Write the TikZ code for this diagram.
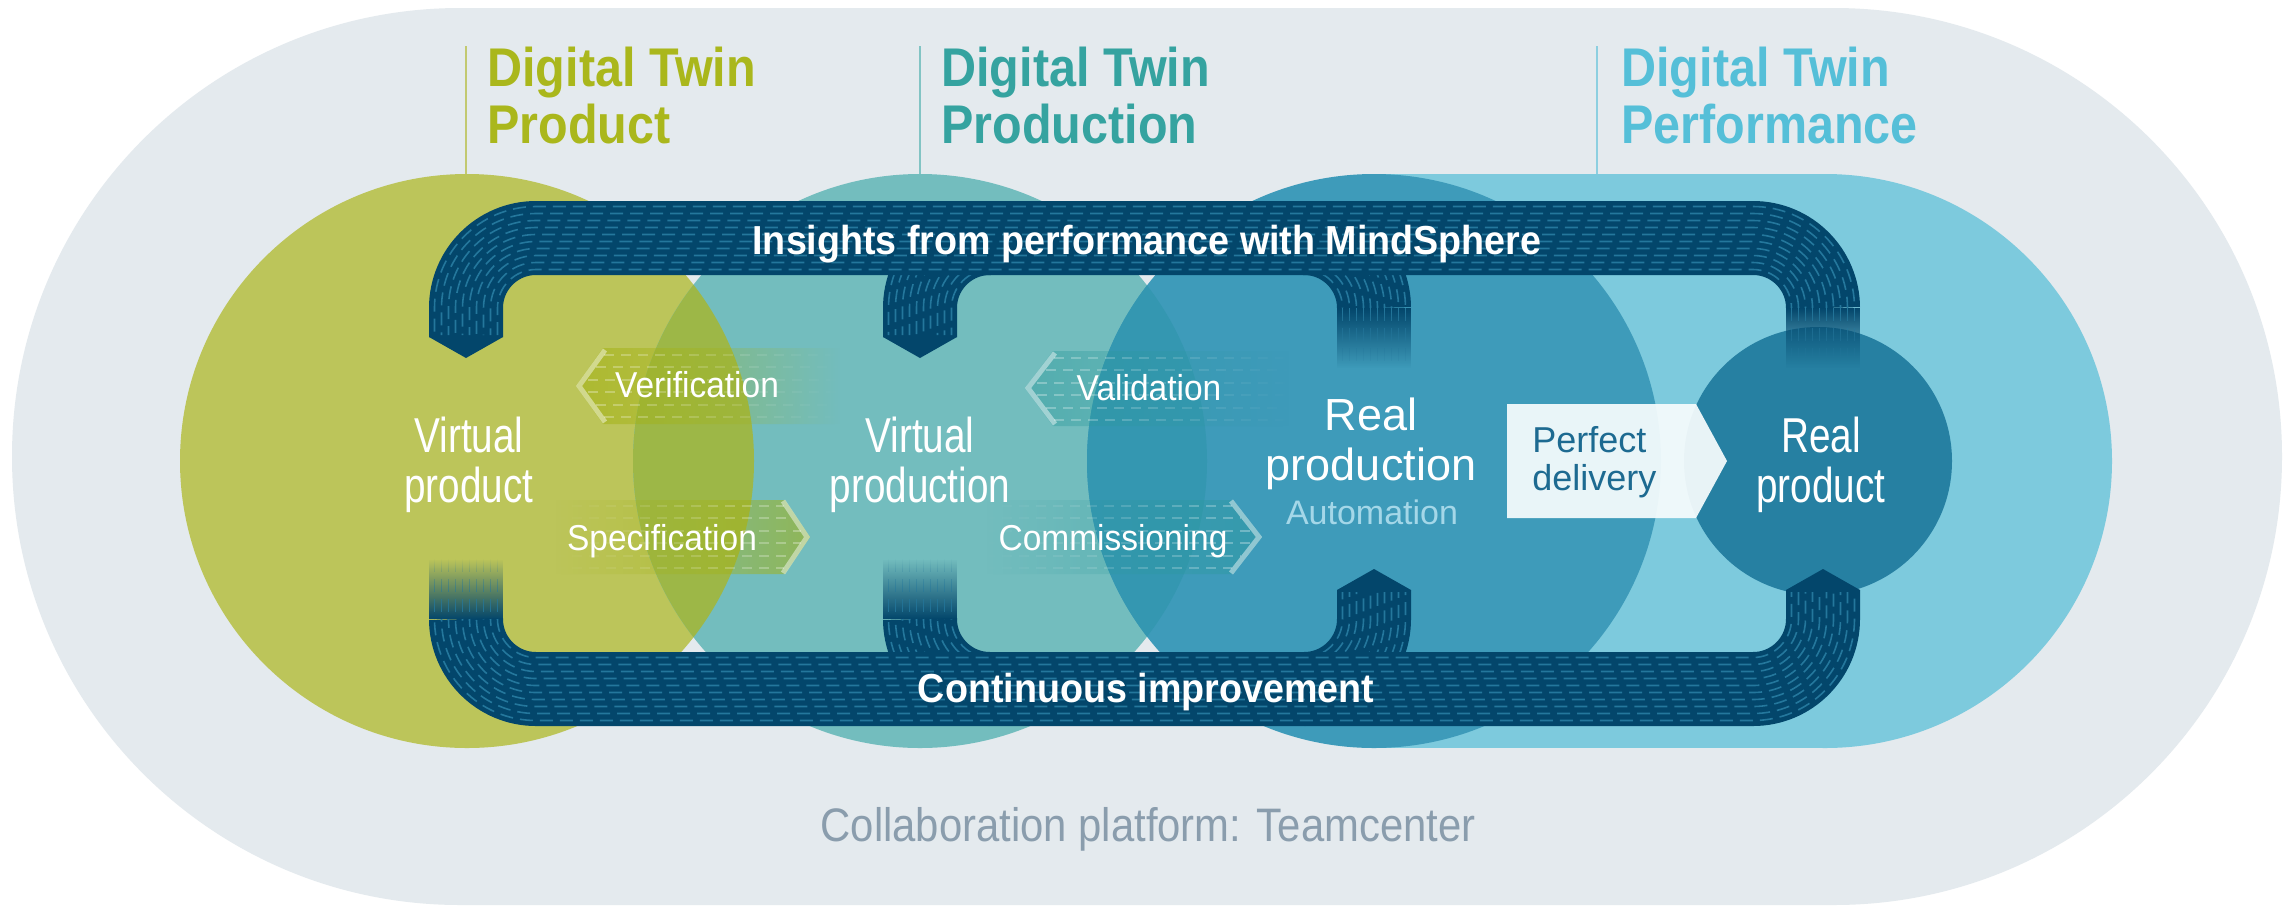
\documentclass[tikz,border=0pt]{standalone}
\usepackage{fontspec}
\setmainfont{Liberation Sans}
\newfontfamily\dtNarrow{Liberation Sans}[FakeStretch=0.79]
\newfontfamily\dtMid{Liberation Sans}[FakeStretch=0.89]
\newfontfamily\dtPipe{Liberation Sans}[FakeStretch=0.93]
\usepackage{xcolor}
\usepackage{tikz}
\usetikzlibrary{fadings}

\definecolor{dtBg}{HTML}{E4EAEE}
\definecolor{dtOlive}{HTML}{BCC55A}
\definecolor{dtTeal}{HTML}{73BDBE}
\definecolor{dtBlue}{HTML}{3E9BBA}
\definecolor{dtSky}{HTML}{7DCADD}
\definecolor{dtReal}{HTML}{2680A2}
\definecolor{dtNavy}{HTML}{03466B}
\definecolor{dtLane}{HTML}{24779C}
\definecolor{dtLensA}{HTML}{9DB747}
\definecolor{dtLensB}{HTML}{3497B1}
\definecolor{dtOliveT}{HTML}{AAB71C}
\definecolor{dtTealT}{HTML}{35A3A0}
\definecolor{dtSkyT}{HTML}{55BFD8}
\definecolor{dtOliveL}{HTML}{C2C970}
\definecolor{dtTealL}{HTML}{82C4C4}
\definecolor{dtSkyL}{HTML}{8CCFE0}
\definecolor{dtOliveD}{HTML}{A3B214}
\definecolor{dtTealD}{HTML}{2C9A9C}
\definecolor{dtAuto}{HTML}{A4D7E8}
\definecolor{dtDeliver}{HTML}{1D6A91}
\definecolor{dtCollab}{HTML}{8A9DAD}

\tikzfading[name=fadedown, top color=transparent!0, bottom color=transparent!100]
\tikzfading[name=fadeup, top color=transparent!100, bottom color=transparent!0]
\tikzfading[name=fadeR, left color=transparent!0, middle color=transparent!20, right color=transparent!100]
\tikzfading[name=fadeL, left color=transparent!100, middle color=transparent!20, right color=transparent!0]

\newcommand\laneoffsets{-31.5,-24.5,-17.5,-10.5,-3.5,3.5,10.5,17.5,24.5,31.5}

\begin{document}
\begin{tikzpicture}[x=0.5pt,y=-0.5pt,
  pipe/.style={dtNavy, line width=37pt, rounded corners=35pt},
  lane/.style={dtLane, line width=0.8pt, dash pattern=on 6.5pt off 3.5pt},
  rows/.style={white, opacity=0.3, line width=0.8pt, dash pattern=on 5pt off 3.5pt},
  chev/.style={white, opacity=0.45, line width=2.5pt, line join=miter},
  bigtext/.style={text=white, align=center, font=\dtNarrow\fontsize{24.5}{25}\selectfont},
  tagtext/.style={text=white, anchor=base, font=\dtPipe\fontsize{18}{20}\selectfont},
  pipetext/.style={text=white, anchor=base, font=\dtPipe\bfseries\fontsize{20.25}{22}\selectfont},
  twintitle/.style={align=left, anchor=north west, inner sep=0pt, font=\dtMid\bfseries\fontsize{27.25}{28.5}\selectfont}]

% frame and platform
\fill[white] (0,0) rectangle (2288,912);
\fill[dtBg, rounded corners=224pt] (12,8) rectangle (2282,905);

% titles
\draw[dtOliveL, line width=1pt] (466,46) -- (466,174);
\draw[dtTealL, line width=1pt] (920,46) -- (920,174);
\draw[dtSkyL, line width=1pt] (1597,46) -- (1597,174);
\node[twintitle, text=dtOliveT] (TP) at (487,47) {Digital Twin\\Product};
\node[twintitle, text=dtTealT] (TPN) at (941,47) {Digital Twin\\Production};
\node[twintitle, text=dtSkyT] (TPF) at (1621,47) {Digital Twin\\Performance};

% twins
\fill[dtSky] (1374,174) rectangle (1825,748);
\fill[dtSky] (1825,461) circle (143.5pt);
\fill[dtOlive] (467,461) circle (143.5pt);
\fill[dtTeal] (920,461) circle (143.5pt);
\fill[dtBlue] (1374,461) circle (143.5pt);
\begin{scope}
  \clip (467,461) circle (143.5pt);
  \fill[dtLensA] (920,461) circle (143.5pt);
\end{scope}
\begin{scope}
  \clip (920,461) circle (143.5pt);
  \fill[dtLensB] (1374,461) circle (143.5pt);
\end{scope}
\fill[dtReal] (1818,461) circle (67pt);

% verification
\fill[dtOliveD, opacity=0.6, path fading=fadeR] (603,348) -- (576,386) -- (603,424) -- (840,424) -- (840,348) -- cycle;
\draw[rows, path fading=fadeR] (604,355) -- (840,355) (596,367) -- (840,367) (588,380) -- (840,380)
  (588,392) -- (840,392) (596,405) -- (840,405) (604,417) -- (840,417);
\draw[chev] (605,350) -- (579,386) -- (605,422);
% validation
\fill[dtTealD, opacity=0.45, path fading=fadeR] (1053,351) -- (1025,388) -- (1053,426) -- (1290,426) -- (1290,351) -- cycle;
\draw[rows, path fading=fadeR] (1054,358) -- (1290,358) (1046,370) -- (1290,370) (1037,383) -- (1290,383)
  (1037,395) -- (1290,395) (1046,408) -- (1290,408) (1054,420) -- (1290,420);
\draw[chev] (1055,353) -- (1028,388) -- (1055,424);
% specification
\fill[dtOliveD, opacity=0.6, path fading=fadeL] (555,500) -- (785,500) -- (810,537) -- (785,574) -- (555,574) -- cycle;
\draw[rows, path fading=fadeL] (555,506) -- (784,506) (555,518) -- (792,518) (555,531) -- (801,531)
  (555,543) -- (801,543) (555,556) -- (792,556) (555,568) -- (784,568);
\draw[chev] (783,501) -- (807,537) -- (783,573);
% commissioning
\fill[dtTealD, opacity=0.45, path fading=fadeL] (985,500) -- (1233,500) -- (1262,537) -- (1233,574) -- (985,574) -- cycle;
\draw[rows, path fading=fadeL] (985,506) -- (1232,506) (985,518) -- (1241,518) (985,531) -- (1251,531)
  (985,543) -- (1251,543) (985,556) -- (1241,556) (985,568) -- (1232,568);
\draw[chev] (1231,501) -- (1259,537) -- (1231,573);

% pipe legs in the middle
\draw[pipe] (990,238) -- (920,238) -- (920,337);
\fill[dtNavy] (883,337) -- (920,358) -- (957,337) -- cycle;
\draw[pipe] (1304,238) -- (1374,238) -- (1374,308);
\fill[dtNavy, path fading=fadedown] (1337,308) rectangle (1411,368);
\draw[pipe] (990,689) -- (920,689) -- (920,619);
\fill[dtNavy, path fading=fadeup] (883,559) rectangle (957,619);
\draw[pipe] (1304,689) -- (1374,689) -- (1374,590);
\fill[dtNavy] (1337,590) -- (1374,569) -- (1411,590) -- cycle;
\foreach \off in \laneoffsets {
  \draw[lane, rounded corners={(70+(\off))*0.5pt}, dash phase={(\off+31.5)*0.45pt}]
    (990,{238-(\off)}) -- ({920-(\off)},{238-(\off)}) -- ({920-(\off)},335);
  \draw[lane, rounded corners={(70+(\off))*0.5pt}, dash phase={(\off+31.5)*0.45pt}]
    (1304,{238-(\off)}) -- ({1374+(\off)},{238-(\off)}) -- ({1374+(\off)},308);
  \draw[lane, rounded corners={(70+(\off))*0.5pt}, dash phase={(\off+31.5)*0.45pt}]
    (990,{689+(\off)}) -- ({920-(\off)},{689+(\off)}) -- ({920-(\off)},619);
  \draw[lane, rounded corners={(70+(\off))*0.5pt}, dash phase={(\off+31.5)*0.45pt}]
    (1304,{689+(\off)}) -- ({1374+(\off)},{689+(\off)}) -- ({1374+(\off)},592);
}
\draw[lane, path fading=fadedown] \foreach \off in \laneoffsets {({1374+(\off)},308) -- ({1374+(\off)},368)};
\draw[lane, path fading=fadeup] \foreach \off in \laneoffsets {({920-(\off)},559) -- ({920-(\off)},619)};

% insights pipe
\draw[pipe] (466,337) -- (466,238) -- (1823,238) -- (1823,308);
\fill[dtNavy] (429,337) -- (466,358) -- (503,337) -- cycle;
\fill[dtNavy, path fading=fadedown] (1786,308) rectangle (1860,368);
% improvement pipe
\draw[pipe] (466,619) -- (466,689) -- (1823,689) -- (1823,590);
\fill[dtNavy] (1786,590) -- (1823,569) -- (1860,590) -- cycle;
\fill[dtNavy, path fading=fadeup] (429,559) rectangle (503,619);
\foreach \off in \laneoffsets {
  \draw[lane, rounded corners={(70+(\off))*0.5pt}, dash phase={(\off+31.5)*0.45pt}]
    ({466-(\off)},335) -- ({466-(\off)},{238-(\off)}) -- ({1823+(\off)},{238-(\off)}) -- ({1823+(\off)},308);
  \draw[lane, rounded corners={(70+(\off))*0.5pt}, dash phase={(\off+31.5)*0.45pt}]
    ({466-(\off)},619) -- ({466-(\off)},{689+(\off)}) -- ({1823+(\off)},{689+(\off)}) -- ({1823+(\off)},592);
}
\draw[lane, path fading=fadedown] \foreach \off in \laneoffsets {({1823+(\off)},308) -- ({1823+(\off)},368)};
\draw[lane, path fading=fadeup] \foreach \off in \laneoffsets {({466-(\off)},559) -- ({466-(\off)},619)};

% perfect delivery
\fill[white!94!dtSky, opacity=0.93] (1507,404) -- (1696,404) -- (1727,461) -- (1696,518) -- (1507,518) -- cycle;
\node[anchor=north west, inner sep=0pt, align=left, text=dtDeliver, font=\fontsize{18}{19}\selectfont] (PD) at (1532,426) {Perfect\\delivery};

% labels
\node[bigtext] (VP) at (469,465) {Virtual\\product};
\node[bigtext] (VPN) at (920,465) {Virtual\\production};
\node[bigtext, font=\fontsize{22.5}{25}\selectfont] (RPN) at (1371,444) {Real\\production};
\node[text=dtAuto, anchor=base, font=\fontsize{17}{18}\selectfont] (AUT) at (1372,524) {Automation};
\node[bigtext] (RP) at (1821,465) {Real\\product};
\node[tagtext] (VER) at (697,397) {Verification};
\node[tagtext] (VAL) at (1149,400) {Validation};
\node[tagtext] (SPE) at (662,550) {Specification};
\node[tagtext] (COM) at (1113,550) {Commissioning};
\node[pipetext] (INS) at (1147,254) {Insights from performance with MindSphere};
\node[pipetext] (CI) at (1146,702) {Continuous improvement};
\node[text=dtCollab, anchor=base, font=\dtMid\fontsize{23.5}{25}\selectfont] (CP) at (1148,841) {Collaboration platform: Teamcenter};
\end{tikzpicture}
\end{document}
